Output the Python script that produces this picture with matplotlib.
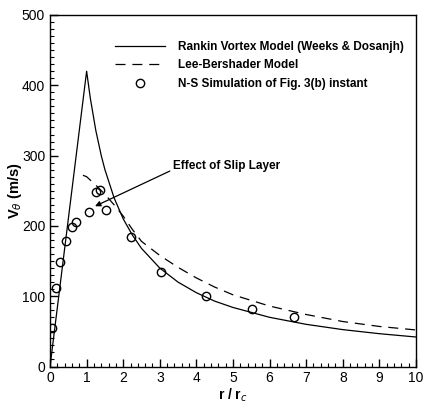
import matplotlib
matplotlib.use("Agg")
import matplotlib.pyplot as plt
from matplotlib.ticker import MultipleLocator

plt.rcParams['font.family'] = ['Liberation Sans', 'DejaVu Sans']

# Rankine vortex model
rankine_r = [0.0, 1.0, 1.1, 1.25, 1.4, 1.5, 1.75, 2.0, 2.25, 2.5, 3.0, 3.5, 4.0, 4.5, 5.0, 6.0, 7.0, 8.0, 9.0, 10.0]
rankine_v = [0, 420, 382, 336, 300, 280, 240, 210, 187, 168, 140, 120, 105, 93, 84, 70, 60, 52.5, 46.7, 42]

# Lee-Bershader model
lee_r = [0.9, 1.0, 1.25, 1.5, 1.75, 2.0, 2.25, 2.5, 3.0, 3.5, 4.0, 4.5, 5.0, 6.0, 7.0, 8.0, 9.0, 10.0]
lee_v = [272, 270, 258, 245, 230, 214, 195, 178, 158, 141, 126, 113, 102, 86, 74, 64, 57, 52]

# N-S simulation points
ns_r = [0.05, 0.16, 0.27, 0.45, 0.59, 0.71, 1.06, 1.25, 1.36, 1.54, 2.2, 3.04, 4.27, 5.52, 6.67]
ns_v = [55, 111, 148, 179, 199, 205, 220, 248, 251, 223, 184, 135, 100, 82, 71]

fig = plt.figure(figsize=(4.24, 4.05), dpi=100)
ax = fig.add_axes([0.118, 0.095, 0.863, 0.868])

ax.plot(rankine_r, rankine_v, color='black', lw=0.9, label='Rankin Vortex Model (Weeks & Dosanjh)')
ax.plot(lee_r, lee_v, color='black', lw=0.9, dashes=(8, 5.5), label='Lee-Bershader Model')
ax.plot(ns_r, ns_v, linestyle='none', marker='o', markersize=6, markerfacecolor='none',
        markeredgecolor='black', markeredgewidth=1.0, label='N-S Simulation of Fig. 3(b) instant')

ax.set_xlim(0, 10)
ax.set_ylim(0, 500)
ax.xaxis.set_major_locator(MultipleLocator(1))
ax.xaxis.set_minor_locator(MultipleLocator(0.2))
ax.yaxis.set_major_locator(MultipleLocator(100))
ax.yaxis.set_minor_locator(MultipleLocator(10))
ax.tick_params(which='both', direction='in', top=False, right=False, labelsize=10)
ax.tick_params(which='major', length=6, width=1)
ax.tick_params(which='minor', length=3, width=0.8)
for s in ax.spines.values():
    s.set_linewidth(1.0)

ax.set_xlabel(r'r / r$_c$', fontsize=10, fontweight='bold', labelpad=1)
ax.set_ylabel(r'V$_{\theta}$ (m/s)', fontsize=10.5, fontweight='bold')
ax.yaxis.set_label_coords(-0.072, 0.5)

leg = ax.legend(loc='upper left', bbox_to_anchor=(0.165, 0.94), frameon=False,
                handlelength=4.2, handletextpad=1.15, labelspacing=0.55,
                prop={'size': 8.5, 'weight': 'bold'}, borderaxespad=0)

ax.annotate('Effect of Slip Layer', xy=(1.23, 228), xytext=(3.35, 285),
            fontsize=8.5, fontweight='bold', va='center', ha='left',
            arrowprops=dict(arrowstyle='-|>', color='black', lw=0.9,
                            shrinkA=0, shrinkB=0, mutation_scale=8,
                            relpos=(0, 0.2)))

fig.savefig('out.png', dpi=100)
